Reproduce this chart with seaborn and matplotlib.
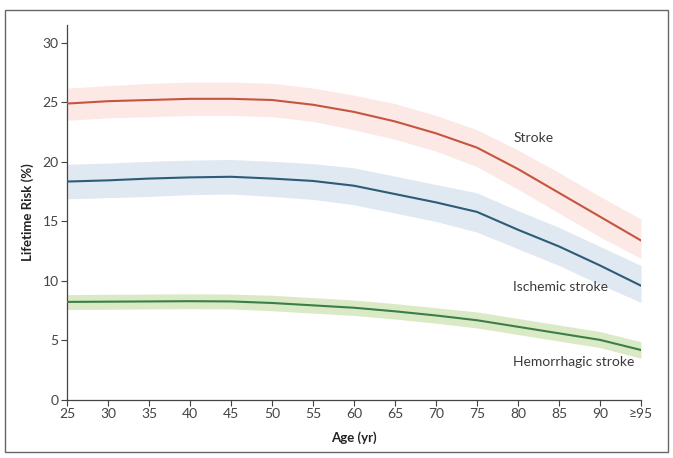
import matplotlib
matplotlib.use("Agg")
import matplotlib.pyplot as plt
import seaborn as sns
import pandas as pd
import numpy as np
from matplotlib.patches import Rectangle

ages = [25, 30, 35, 40, 45, 50, 55, 60, 65, 70, 75, 80, 85, 90, 95]
age_labels = ["25", "30", "35", "40", "45", "50", "55", "60", "65", "70", "75", "80", "85", "90", "≥95"]

stroke = [24.9, 25.1, 25.2, 25.3, 25.3, 25.2, 24.8, 24.2, 23.4, 22.4, 21.2, 19.4, 17.4, 15.4, 13.4]
stroke_lo = [23.5, 23.7, 23.8, 23.9, 23.9, 23.8, 23.4, 22.7, 21.9, 20.9, 19.6, 17.7, 15.7, 13.7, 11.9]
stroke_hi = [26.2, 26.4, 26.6, 26.7, 26.7, 26.6, 26.2, 25.6, 24.9, 23.9, 22.7, 21.0, 19.1, 17.1, 15.2]

ischemic = [18.35, 18.45, 18.6, 18.7, 18.75, 18.6, 18.4, 18.0, 17.3, 16.6, 15.8, 14.3, 12.9, 11.3, 9.6]
ischemic_lo = [16.9, 17.0, 17.1, 17.25, 17.3, 17.1, 16.85, 16.4, 15.7, 15.0, 14.1, 12.7, 11.3, 9.7, 8.2]
ischemic_hi = [19.8, 19.9, 20.05, 20.15, 20.2, 20.05, 19.85, 19.5, 18.8, 18.1, 17.4, 15.9, 14.5, 12.9, 11.3]

hemorrhagic = [8.24, 8.26, 8.28, 8.3, 8.28, 8.15, 7.95, 7.75, 7.45, 7.1, 6.7, 6.15, 5.6, 5.05, 4.2]
hemorrhagic_lo = [7.6, 7.62, 7.65, 7.67, 7.65, 7.5, 7.3, 7.1, 6.8, 6.45, 6.05, 5.5, 4.95, 4.4, 3.5]
hemorrhagic_hi = [8.85, 8.88, 8.9, 8.92, 8.9, 8.8, 8.6, 8.4, 8.1, 7.75, 7.4, 6.85, 6.3, 5.75, 4.9]

series_names = ["Stroke", "Ischemic stroke", "Hemorrhagic stroke"]
line_colors = ["#c6553f", "#2c5c78", "#3b7f47"]
band_colors = ["#fce8e5", "#e0e8f1", "#dbeac6"]
label_y = [22.0, 9.5, 3.2]

df = pd.DataFrame({
    "Age": ages * 3,
    "Risk": stroke + ischemic + hemorrhagic,
    "Series": sum([[n] * len(ages) for n in series_names], []),
})
bands = {
    "Stroke": (stroke_lo, stroke_hi),
    "Ischemic stroke": (ischemic_lo, ischemic_hi),
    "Hemorrhagic stroke": (hemorrhagic_lo, hemorrhagic_hi),
}

sns.set_theme(style="ticks")
plt.rcParams['font.family'] = ['Lato', 'DejaVu Sans']

fig = plt.figure(figsize=(6.73, 4.58), dpi=100)
ax = fig.add_axes([67/673, 1 - 400/458, (641 - 67)/673, (400 - 25)/458])

for name, bc in zip(series_names, band_colors):
    lo, hi = bands[name]
    ax.fill_between(ages, lo, hi, color=bc, linewidth=0, zorder=1)

sns.lineplot(data=df, x="Age", y="Risk", hue="Series", palette=dict(zip(series_names, line_colors)),
             linewidth=1.5, legend=False, ax=ax, zorder=3)

for name, ly in zip(series_names, label_y):
    ax.text(79.4, ly, name, fontsize=10, color="#3a3a3a", va="center", ha="left")

ax.set_xlim(25, 95)
ax.set_ylim(0, 31.5)
ax.set_xticks(ages)
ax.set_xticklabels(age_labels)
ax.set_yticks([0, 5, 10, 15, 20, 25, 30])
ax.tick_params(axis="both", labelsize=10, colors="#444444", length=4, width=0.8, pad=2)
for s in ["top", "right"]:
    ax.spines[s].set_visible(False)
for s in ["left", "bottom"]:
    ax.spines[s].set_color("#444444")
    ax.spines[s].set_linewidth(0.9)
ax.set_xlabel("Age (yr)", fontsize=9.5, fontweight="bold", color="#222222", labelpad=8)
ax.set_ylabel("Lifetime Risk (%)", fontsize=9.5, fontweight="bold", color="#222222", labelpad=6)

fig.patches.append(Rectangle((5/673, 1 - 452/458), 663/673, 442/458, transform=fig.transFigure,
                             fill=False, edgecolor="#666666", linewidth=1.0))

fig.savefig("out.png", dpi=100)
